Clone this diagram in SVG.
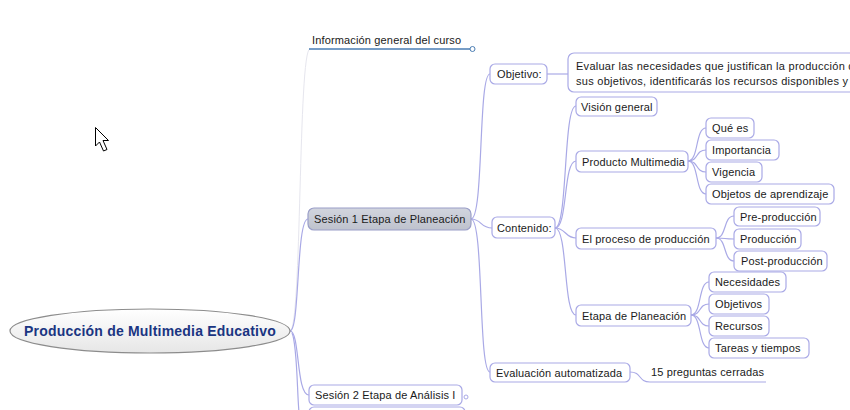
<svg xmlns="http://www.w3.org/2000/svg" width="850" height="410" viewBox="0 0 850 410">
<defs>
<linearGradient id="rootg" x1="0" y1="0" x2="0" y2="1">
<stop offset="0" stop-color="#ffffff"/>
<stop offset="1" stop-color="#e6e6e6"/>
</linearGradient>
<linearGradient id="selg" x1="0" y1="0" x2="0" y2="1">
<stop offset="0" stop-color="#d2d5de"/>
<stop offset="1" stop-color="#bec2cd"/>
</linearGradient>
</defs>
<style>
text{font-family:"Liberation Sans",Arial,sans-serif;font-size:11px;letter-spacing:0.15px;fill:#1a1a1a}
.wide{letter-spacing:0.27px}
.box{fill:#ffffff;stroke:#a9a9e6;stroke-width:1.2}
.sel{fill:url(#selg);stroke:#9a9ec8;stroke-width:1.2}
.c{fill:none;stroke:#a9a9e6;stroke-width:1.2}
.root{font-family:"Liberation Sans",Arial,sans-serif;font-size:14px;font-weight:bold;letter-spacing:0.2px;fill:#1a3582}
</style>
<rect width="850" height="410" fill="#ffffff"/>

<g id="connectors">
<path d="M290 331 C302 331,298 49,310 49" fill="none" stroke="#e6e6ee" stroke-width="1"/>
<path d="M290 331 C300 331,296 219,308 219" class="c" stroke-width="1.6"/>
<path d="M290 331 C300 331,296 395,309 395" class="c" stroke-width="2.6"/>
<path d="M292 333 C298 345,297 410,300 420" class="c" stroke-width="3"/>
<path d="M471 219 C484 219,478 74,490 74" class="c"/>
<path d="M471 219 C482 219,480 228,492 228" class="c"/>
<path d="M471 219 C484 219,478 372,490 372" class="c"/>
<path d="M547 74 L568 74" class="c"/>
<path d="M555 228 C568 228,563 106,576 106" class="c"/>
<path d="M555 228 C568 228,563 161,576 161" class="c"/>
<path d="M555 228 C566 228,565 238,576 238" class="c"/>
<path d="M555 228 C568 228,563 315,576 315" class="c"/>
<path d="M688 161 C699 161,695 128,706 128" class="c"/>
<path d="M688 161 C699 161,695 150,706 150" class="c"/>
<path d="M688 161 C699 161,695 172,706 172" class="c"/>
<path d="M688 161 C699 161,695 194,706 194" class="c"/>
<path d="M716 238 C727 238,723 216,734 216" class="c"/>
<path d="M716 238 C727 238,723 239,734 239" class="c"/>
<path d="M716 238 C727 238,723 261,734 261" class="c"/>
<path d="M691 315 C702 315,698 282,709 282" class="c"/>
<path d="M691 315 C702 315,698 304,709 304" class="c"/>
<path d="M691 315 C702 315,698 326,709 326" class="c"/>
<path d="M691 315 C702 315,698 348,709 348" class="c"/>
<path d="M630 372 C642 372,638 382,650 382 L766 382" class="c"/>
</g>

<g id="root">
<ellipse cx="150" cy="331" rx="140" ry="22" fill="url(#rootg)" stroke="#8c8c8c" stroke-width="1.2"/>
<text x="150" y="336" text-anchor="middle" class="root">Producción de Multimedia Educativo</text>
</g>

<g id="info">
<text x="312" y="44">Información general del curso</text>
<line x1="309" y1="49" x2="470" y2="49" stroke="#4a7db3" stroke-width="1.3"/>
<circle cx="472.5" cy="49" r="2.5" fill="#ffffff" stroke="#4a7db3" stroke-width="1"/>
</g>

<g id="sesion1">
<rect x="308" y="208" width="163" height="22" rx="6" class="sel"/>
<text x="314" y="223">Sesión 1 Etapa de Planeación</text>
</g>

<g id="objetivo">
<rect x="490" y="64" width="57" height="20" rx="5" class="box"/>
<text x="497" y="78">Objetivo:</text>
</g>

<g id="evaluar">
<rect x="568" y="53" width="300" height="39" rx="6" class="box"/>
<text x="576" y="70" class="wide">Evaluar las necesidades que justifican la producción de</text>
<text x="576" y="85" class="wide">sus objetivos, identificarás los recursos disponibles y</text>
</g>

<g id="contenido">
<rect x="492" y="217" width="63" height="21" rx="5" class="box"/>
<text x="497" y="232">Contenido:</text>
</g>

<g id="evaluacion">
<rect x="490" y="363" width="140" height="19" rx="5" class="box"/>
<text x="496" y="377">Evaluación automatizada</text>
</g>

<g id="preguntas">
<text x="651" y="376">15 preguntas cerradas</text>
</g>

<g id="vision">
<rect x="576" y="97" width="81" height="19" rx="5" class="box"/>
<text x="581" y="111">Visión general</text>
</g>

<g id="producto">
<rect x="576" y="151" width="112" height="21" rx="5" class="box"/>
<text x="582" y="166">Producto Multimedia</text>
</g>

<g id="quees">
<rect x="706" y="118" width="48" height="20" rx="5" class="box"/>
<text x="712" y="132">Qué es</text>
</g>
<g id="importancia">
<rect x="706" y="140" width="73" height="20" rx="5" class="box"/>
<text x="712" y="154">Importancia</text>
</g>
<g id="vigencia">
<rect x="706" y="162" width="56" height="20" rx="5" class="box"/>
<text x="712" y="176">Vigencia</text>
</g>
<g id="objetos">
<rect x="706" y="184" width="128" height="20" rx="5" class="box"/>
<text x="712" y="198">Objetos de aprendizaje</text>
</g>

<g id="proceso">
<rect x="576" y="228" width="140" height="21" rx="5" class="box"/>
<text x="582" y="243">El proceso de producción</text>
</g>
<g id="preproduccion">
<rect x="734" y="207" width="86" height="19" rx="5" class="box"/>
<text x="740" y="221">Pre-producción</text>
</g>
<g id="produccion">
<rect x="734" y="229" width="67" height="20" rx="5" class="box"/>
<text x="740" y="243">Producción</text>
</g>
<g id="postproduccion">
<rect x="734" y="251" width="93" height="20" rx="5" class="box"/>
<text x="741" y="265">Post-producción</text>
</g>

<g id="etapa">
<rect x="576" y="305" width="115" height="21" rx="5" class="box"/>
<text x="582" y="320">Etapa de Planeación</text>
</g>
<g id="necesidades">
<rect x="709" y="272" width="77" height="20" rx="5" class="box"/>
<text x="715" y="286">Necesidades</text>
</g>
<g id="objetivos">
<rect x="709" y="294" width="60" height="20" rx="5" class="box"/>
<text x="715" y="308">Objetivos</text>
</g>
<g id="recursos">
<rect x="709" y="316" width="60" height="20" rx="5" class="box"/>
<text x="715" y="330">Recursos</text>
</g>
<g id="tareas">
<rect x="709" y="338" width="100" height="20" rx="5" class="box"/>
<text x="715" y="352">Tareas y tiempos</text>
</g>

<g id="sesion2">
<rect x="309" y="385" width="153" height="20" rx="5" class="box"/>
<text x="315" y="399">Sesión 2 Etapa de Análisis I</text>
<circle cx="466" cy="397" r="2" fill="#ffffff" stroke="#a9a9e6" stroke-width="1"/>
</g>

<g id="sesion3">
<rect x="309" y="407" width="156" height="20" rx="5" class="box"/>
</g>

<g id="cursor">
<path d="M95.5 127.5 L95.5 146 L99.5 142 L103.5 151 L107 149.5 L103 140.5 L108.5 140.5 Z" fill="#ffffff" stroke="#000000" stroke-width="1" stroke-linejoin="round"/>
</g>
</svg>
